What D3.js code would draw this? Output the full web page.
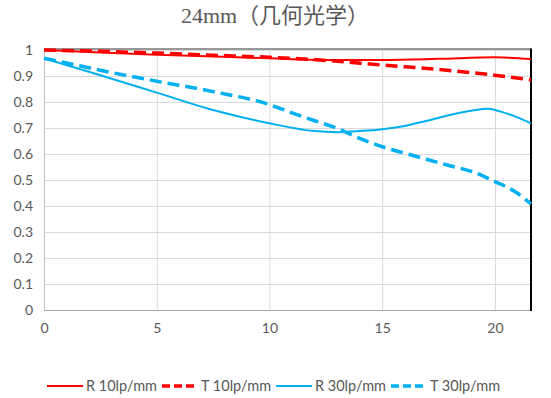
<!DOCTYPE html>
<html><head><meta charset="utf-8">
<script src="https://cdn.jsdelivr.net/npm/d3@7"></script>
<style>body{margin:0;background:#fff}svg{display:block}</style>
</head><body>
<svg id="c" width="551" height="398"></svg>
<script>
const title = "24mm（几何光学）";
const xTicks = [0, 5, 10, 15, 20];
const yTicks = [0, 0.1, 0.2, 0.3, 0.4, 0.5, 0.6, 0.7, 0.8, 0.9, 1];
const seriesNames = ["R 10lp/mm", "T 10lp/mm", "R 30lp/mm", "T 30lp/mm"];
const seriesColors = ["#ff0000", "#ff0000", "#00b0f0", "#00b0f0"];
const seriesDashed = [false, true, false, true];

const xR10 = [0, 2.5, 5, 7.5, 10, 12.5, 15, 17.5, 20, 21.6];
const yR10 = [1.0, 0.99, 0.982, 0.975, 0.968, 0.962, 0.962, 0.966, 0.972, 0.965];
const xT10 = [0, 2.5, 5, 7.5, 10, 12.5, 15, 17.5, 20, 21.6];
const yT10 = [1.0, 0.995, 0.988, 0.98, 0.972, 0.96, 0.942, 0.925, 0.903, 0.885];
const xR30 = [0, 2.5, 5, 7.5, 10, 12, 13, 14, 15, 16, 17, 18, 19, 19.7, 20.3, 21, 21.6];
const yR30 = [0.968, 0.903, 0.836, 0.769, 0.718, 0.688, 0.684, 0.688, 0.695, 0.708, 0.728, 0.75, 0.767, 0.774, 0.762, 0.741, 0.718];
const xT30 = [0, 1, 2.5, 5, 7.5, 10, 11, 12, 13, 14, 15, 16, 17, 18, 19, 20, 21, 21.6];
const yT30 = [0.968, 0.95, 0.922, 0.88, 0.84, 0.79, 0.758, 0.728, 0.699, 0.66, 0.628, 0.603, 0.579, 0.555, 0.532, 0.494, 0.449, 0.408];

const seriesX = [xR10, xT10, xR30, xT30];
const seriesY = [yR10, yT10, yR30, yT30];

const svg = d3.select("#c");
const x = d3.scaleLinear().domain([0, 21.6]).range([44, 531]);
const y = d3.scaleLinear().domain([0, 1]).range([310, 50]);
const font = "Lato, 'Open Sans', sans-serif";

svg.append("text").attr("x", 275).attr("y", 23).attr("text-anchor", "middle")
  .attr("font-family", "'Liberation Serif', 'Noto Sans CJK SC', serif")
  .attr("font-size", 22).attr("fill", "#595959").text(title);

// grid
const g = svg.append("g");
g.selectAll("line.h").data(yTicks.filter(d => d > 0)).join("line")
  .attr("x1", x(0)).attr("x2", x(21.6)).attr("y1", d => y(d) + 0.5).attr("y2", d => y(d) + 0.5)
  .attr("stroke", "#d9d9d9").attr("stroke-width", 1);
g.selectAll("line.v").data(xTicks.filter(d => d > 0)).join("line")
  .attr("y1", y(1)).attr("y2", y(0)).attr("x1", d => x(d) + 0.5).attr("x2", d => x(d) + 0.5)
  .attr("stroke", "#d9d9d9").attr("stroke-width", 1);

// frame
svg.append("line").attr("x1", x(0)).attr("x2", x(21.6)).attr("y1", y(1) - 1).attr("y2", y(1) - 1).attr("stroke", "#303030").attr("stroke-width", 1);
svg.append("line").attr("x1", x(0) + 0.5).attr("x2", x(0) + 0.5).attr("y1", y(1)).attr("y2", y(0)).attr("stroke", "#bfbfbf");
svg.append("line").attr("x1", x(0)).attr("x2", x(21.6)).attr("y1", y(0) + 0.5).attr("y2", y(0) + 0.5).attr("stroke", "#a6a6a6");
svg.append("line").attr("x1", x(21.6)).attr("x2", x(21.6)).attr("y1", y(1) - 1.5).attr("y2", y(0) + 1).attr("stroke", "#000").attr("stroke-width", 2);

// axes labels via d3 axes
const yAxis = d3.axisLeft(y).tickValues(yTicks).tickSize(0).tickPadding(11).tickFormat(d => d3.format("~g")(d));
const ya = svg.append("g").attr("transform", `translate(${x(0)},0)`).call(yAxis);
ya.select(".domain").remove();
ya.selectAll("text").attr("font-family", font).attr("font-size", 14).attr("fill", "#595959");

const xAxis = d3.axisBottom(x).tickValues(xTicks).tickSize(0).tickPadding(13);
const xa = svg.append("g").attr("transform", `translate(0,${y(0)})`).call(xAxis);
xa.select(".domain").remove();
xa.selectAll("text").attr("font-family", font).attr("font-size", 14).attr("fill", "#595959");

// series
const line = d3.line().x(d => x(d[0])).y(d => y(d[1])).curve(d3.curveMonotoneX);
const order = [2, 3, 1, 0];
order.forEach(i => {
  const pts = seriesX[i].map((v, k) => [v, seriesY[i][k]]);
  svg.append("path").attr("d", line(pts)).attr("fill", "none")
    .attr("stroke", seriesColors[i])
    .attr("stroke-width", seriesDashed[i] ? 3.5 : 2)
    .attr("stroke-dasharray", seriesDashed[i] ? "12,6" : null);
});

// legend
const lg = svg.append("g").attr("transform", "translate(47,386)");
const itemX = [0, 115, 229, 344];
seriesNames.forEach((n, i) => {
  const it = lg.append("g").attr("transform", `translate(${itemX[i]},0)`);
  it.append("line").attr("x1", 0).attr("x2", 36).attr("y1", 0).attr("y2", 0)
    .attr("stroke", seriesColors[i]).attr("stroke-width", seriesDashed[i] ? 3.5 : 2)
    .attr("stroke-dasharray", seriesDashed[i] ? "8,4" : null);
  it.append("text").attr("x", 39).attr("y", 5).attr("font-family", font).attr("font-size", 14.5)
    .attr("fill", "#595959").text(n);
});
</script>
</body></html>
